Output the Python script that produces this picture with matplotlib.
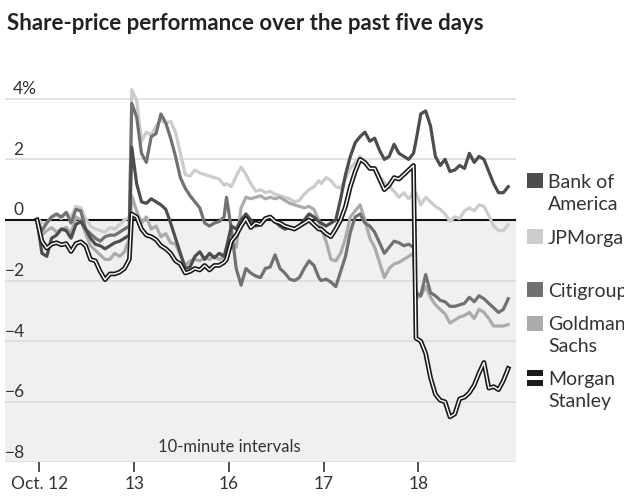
import matplotlib.pyplot as plt
import numpy as np
from matplotlib.patches import Rectangle

plt.rcParams['font.family'] = ['Lato', 'DejaVu Sans']

title = "Share-price performance over the past five days"
day_labels = ["Oct. 12", "13", "16", "17", "18"]
y_ticks = [4, 2, 0, -2, -4, -6, -8]
y_tick_labels = ["4%", "2", "0", "\u22122", "\u22124", "\u22126", "\u22128"]

# % change, one reading every 20 minutes (20 per trading day)
bofa = [0.0, -1.1, -1.2, -0.6, -0.5, -0.3, -0.35, -0.6, -0.15, -0.05, -0.3, -0.6, -0.8, -0.85, -0.95, -0.85, -0.75, -0.7, -0.6, -0.5,
        2.4, 1.2, 0.6, 0.55, 0.7, 0.6, 0.5, 0.35, -0.1, -0.6, -1.1, -1.6, -1.55, -1.2, -1.05, -1.3, -1.1, -1.25, -1.1, -1.2,
        -0.9, -0.2, -0.3, 0.0, 0.2, 0.0, -0.2, -0.15, 0.0, 0.1, -0.05, -0.2, -0.3, -0.25, -0.3, -0.2, 0.0, 0.2, 0.1, -0.05,
        -0.1, -0.2, -0.1, 0.0, 0.7, 1.5, 2.1, 2.55, 2.75, 2.9, 2.6, 2.7, 2.3, 2.0, 2.1, 2.5, 2.2, 2.1, 2.0, 2.2,
        2.6, 3.5, 3.6, 3.1, 2.1, 1.8, 2.0, 1.6, 1.65, 1.8, 1.7, 2.2, 1.9, 2.1, 2.0, 1.6, 1.2, 0.9, 0.9, 1.1]
jpm = [0.05, -0.1, -0.1, 0.1, 0.15, 0.05, 0.25, 0.1, 0.45, 0.4, 0.05, -0.2, -0.3, -0.35, -0.4, -0.25, -0.3, -0.15, 0.0, 0.1,
       4.3, 3.95, 2.6, 2.9, 2.8, 3.1, 3.3, 3.2, 3.25, 2.9, 2.2, 1.5, 1.45, 1.65, 1.55, 1.5, 1.45, 1.4, 1.35, 1.15,
       1.2, 1.1, 1.45, 1.75, 1.5, 1.2, 0.95, 1.0, 0.9, 0.95, 0.85, 0.8, 0.75, 0.7, 0.6, 0.65, 0.85, 1.0, 1.1, 1.3,
       1.2, 1.4, 1.3, 1.1, 1.05, 1.35, 1.7, 1.9, 2.1, 1.9, 1.75, 1.7, 1.45, 1.25, 1.1, 0.95, 0.75, 0.9, 0.7, 0.9,
       0.9, 0.5, 0.75, 0.6, 0.45, 0.35, 0.2, -0.05, 0.1, 0.05, 0.3, 0.4, 0.3, 0.5, 0.45, 0.15, -0.2, -0.35, -0.35, -0.15]
citi = [0.0, -0.35, -0.1, 0.1, 0.2, 0.1, 0.25, -0.1, 0.35, 0.3, -0.3, -0.45, -0.6, -0.7, -0.55, -0.5, -0.5, -0.4, -0.3, -0.2,
        3.85, 3.4, 2.2, 1.9, 2.75, 2.85, 3.5, 3.2, 2.7, 2.1, 1.4, 1.05, 0.8, 0.6, 0.4, -0.1, -0.2, -0.1, -0.05, 0.1,
        0.75, -0.3, -1.6, -2.15, -1.6, -1.75, -1.85, -1.9, -1.6, -1.55, -1.15, -1.6, -1.75, -1.95, -2.0, -1.9, -1.6, -1.35, -1.5, -1.9,
        -2.0, -1.95, -2.05, -2.2, -1.7, -1.2, -0.4, 0.1, 0.2, -0.1, -0.2, -0.4, -0.75, -1.1, -0.9, -0.7, -0.75, -0.85, -0.8, -0.9,
        -2.4, -2.5, -1.8, -2.4, -2.5, -2.65, -2.7, -2.85, -2.85, -2.8, -2.75, -2.55, -2.7, -2.5, -2.6, -2.75, -2.9, -3.05, -2.95, -2.6]
gs = [0.0, -0.5, -0.35, -0.25, -0.4, -0.3, -0.25, -0.45, 0.1, 0.0, -0.45, -0.85, -1.0, -1.15, -1.3, -1.3, -1.1, -1.2, -1.05, -0.6,
      0.8, 0.3, -0.1, 0.1, -0.3, -0.2, -0.55, -0.45, -0.75, -0.8, -1.15, -1.5, -1.35, -1.3, -1.35, -1.25, -1.3, -1.2, -1.3, -1.2,
      -1.2, -0.9, -0.9, 0.4, 0.75, 0.7, 0.75, 0.8, 0.7, 0.75, 0.7, 0.75, 0.65, 0.55, 0.5, 0.45, 0.4, 0.45, 0.35, 0.0,
      -0.3, -0.7, -1.3, -1.35, -1.1, -0.6, 0.1, 0.3, 0.5, 0.0, -0.6, -0.9, -1.4, -1.9, -1.6, -1.45, -1.4, -1.3, -1.2, -1.1,
      -2.6, -2.5, -2.2, -2.55, -2.8, -2.95, -3.1, -3.4, -3.3, -3.2, -3.15, -3.05, -3.25, -2.95, -3.05, -3.25, -3.5, -3.5, -3.5, -3.45]
ms = [0.0, -0.7, -0.93, -0.8, -0.75, -0.82, -0.78, -1.04, -0.78, -0.72, -0.85, -1.3, -1.35, -1.7, -1.97, -1.78, -1.78, -1.72, -1.6, -1.3,
      0.2, 0.1, -0.3, -0.5, -0.55, -0.65, -0.85, -0.95, -1.1, -1.35, -1.45, -1.75, -1.7, -1.6, -1.65, -1.5, -1.65, -1.5, -1.5, -1.4,
      -1.3, -0.7, -0.5, -0.2, 0.05, -0.25, -0.1, -0.15, 0.05, 0.1, -0.05, -0.1, -0.2, -0.25, -0.3, -0.2, -0.1, 0.0, -0.15, -0.3,
      -0.3, -0.45, -0.55, -0.3, 0.0, 0.45, 1.1, 1.6, 2.0, 1.9, 1.7, 1.7, 1.35, 1.0, 1.15, 1.4, 1.35, 1.5, 1.65, 1.8,
      -3.9, -4.0, -4.4, -5.2, -5.75, -5.95, -6.0, -6.5, -6.4, -5.9, -5.85, -5.7, -5.45, -5.05, -4.7, -5.55, -5.5, -5.6, -5.3, -4.9]

names = ["Bank of\nAmerica", "JPMorgan", "Citigroup", "Goldman\nSachs", "Morgan\nStanley"]
colors = ["#4d4d4d", "#cccccc", "#717171", "#ababab", "#1a1a1a"]

# time axis in 10-minute intervals, 39 per trading day
per_day = 39
x = np.concatenate([d * per_day + np.arange(0, per_day, 2) for d in range(5)])

W, H = 624, 504
fig = plt.figure(figsize=(W / 100, H / 100), dpi=100)
ax = fig.add_axes([5 / W, 41.6 / H, 511 / W, 381.8 / H])
ax.set_xlim(-13.2, 197.2)
ax.set_ylim(-8, 4.6)
for s in ax.spines.values():
    s.set_visible(False)

ax.axhspan(-8, 0, color="#f0f0f0", zorder=0, lw=0)
for t in y_ticks:
    if t != 0:
        ax.axhline(t, color="#d9d9d9", lw=1.1, zorder=1)
ax.axhline(0, color="#111111", lw=1.5, zorder=2)

series = [jpm, gs, citi, bofa]
for vals, c in zip(series, ["#cccccc", "#ababab", "#717171", "#4d4d4d"]):
    ax.plot(x, vals, color=c, lw=2.3, solid_joinstyle="round", zorder=3)
ax.plot(x, ms, color="#1a1a1a", lw=3.4, solid_joinstyle="round", zorder=4)
ax.plot(x, ms, color="white", lw=1.0, solid_joinstyle="round", zorder=5)

ax.set_yticks([])
ax.set_xticks([d * per_day + 1 for d in range(5)])
ax.set_xticklabels(day_labels)
ax.tick_params(axis="x", direction="out", length=7, width=1.2, color="#333333",
               labelsize=12.5, labelcolor="#333333", pad=3)

trans = ax.get_yaxis_transform()
for t, lab in zip(y_ticks, y_tick_labels):
    xpos = 8 / 511 if t >= 0 else 0
    ax.text(xpos, t + 0.15, lab, transform=trans, ha="left", va="baseline",
            fontsize=12.5, color="#333333")

ax.text(2 * per_day + 1, -7.66, "10-minute intervals", ha="center", va="baseline",
        fontsize=12, color="#333333")

fig.text(7 / W, 1 - 30 / H, title, fontsize=16, fontweight="bold", color="#222222",
         ha="left", va="baseline")

# legend on the right
leg_y = [180.5, 236, 289.5, 323, 377.5]
for name, c, yc in zip(names, colors, leg_y):
    if name.startswith("Morgan"):
        fig.add_artist(Rectangle((527 / W, 1 - (yc + 8) / H), 16 / W, 16 / H,
                                 transform=fig.transFigure, color="#1a1a1a", lw=0))
        fig.add_artist(Rectangle((527 / W, 1 - (yc + 2) / H), 16 / W, 4 / H,
                                 transform=fig.transFigure, color="white", lw=0))
    else:
        fig.add_artist(Rectangle((527 / W, 1 - (yc + 7.5) / H), 16 / W, 15 / H,
                                 transform=fig.transFigure, color=c, lw=0))
    for i, line in enumerate(name.split("\n")):
        fig.text(548 / W, 1 - (yc + 7.5 + 22 * i) / H, line, fontsize=14,
                 color="#333333", ha="left", va="baseline")

fig.savefig("out.png", dpi=100)
